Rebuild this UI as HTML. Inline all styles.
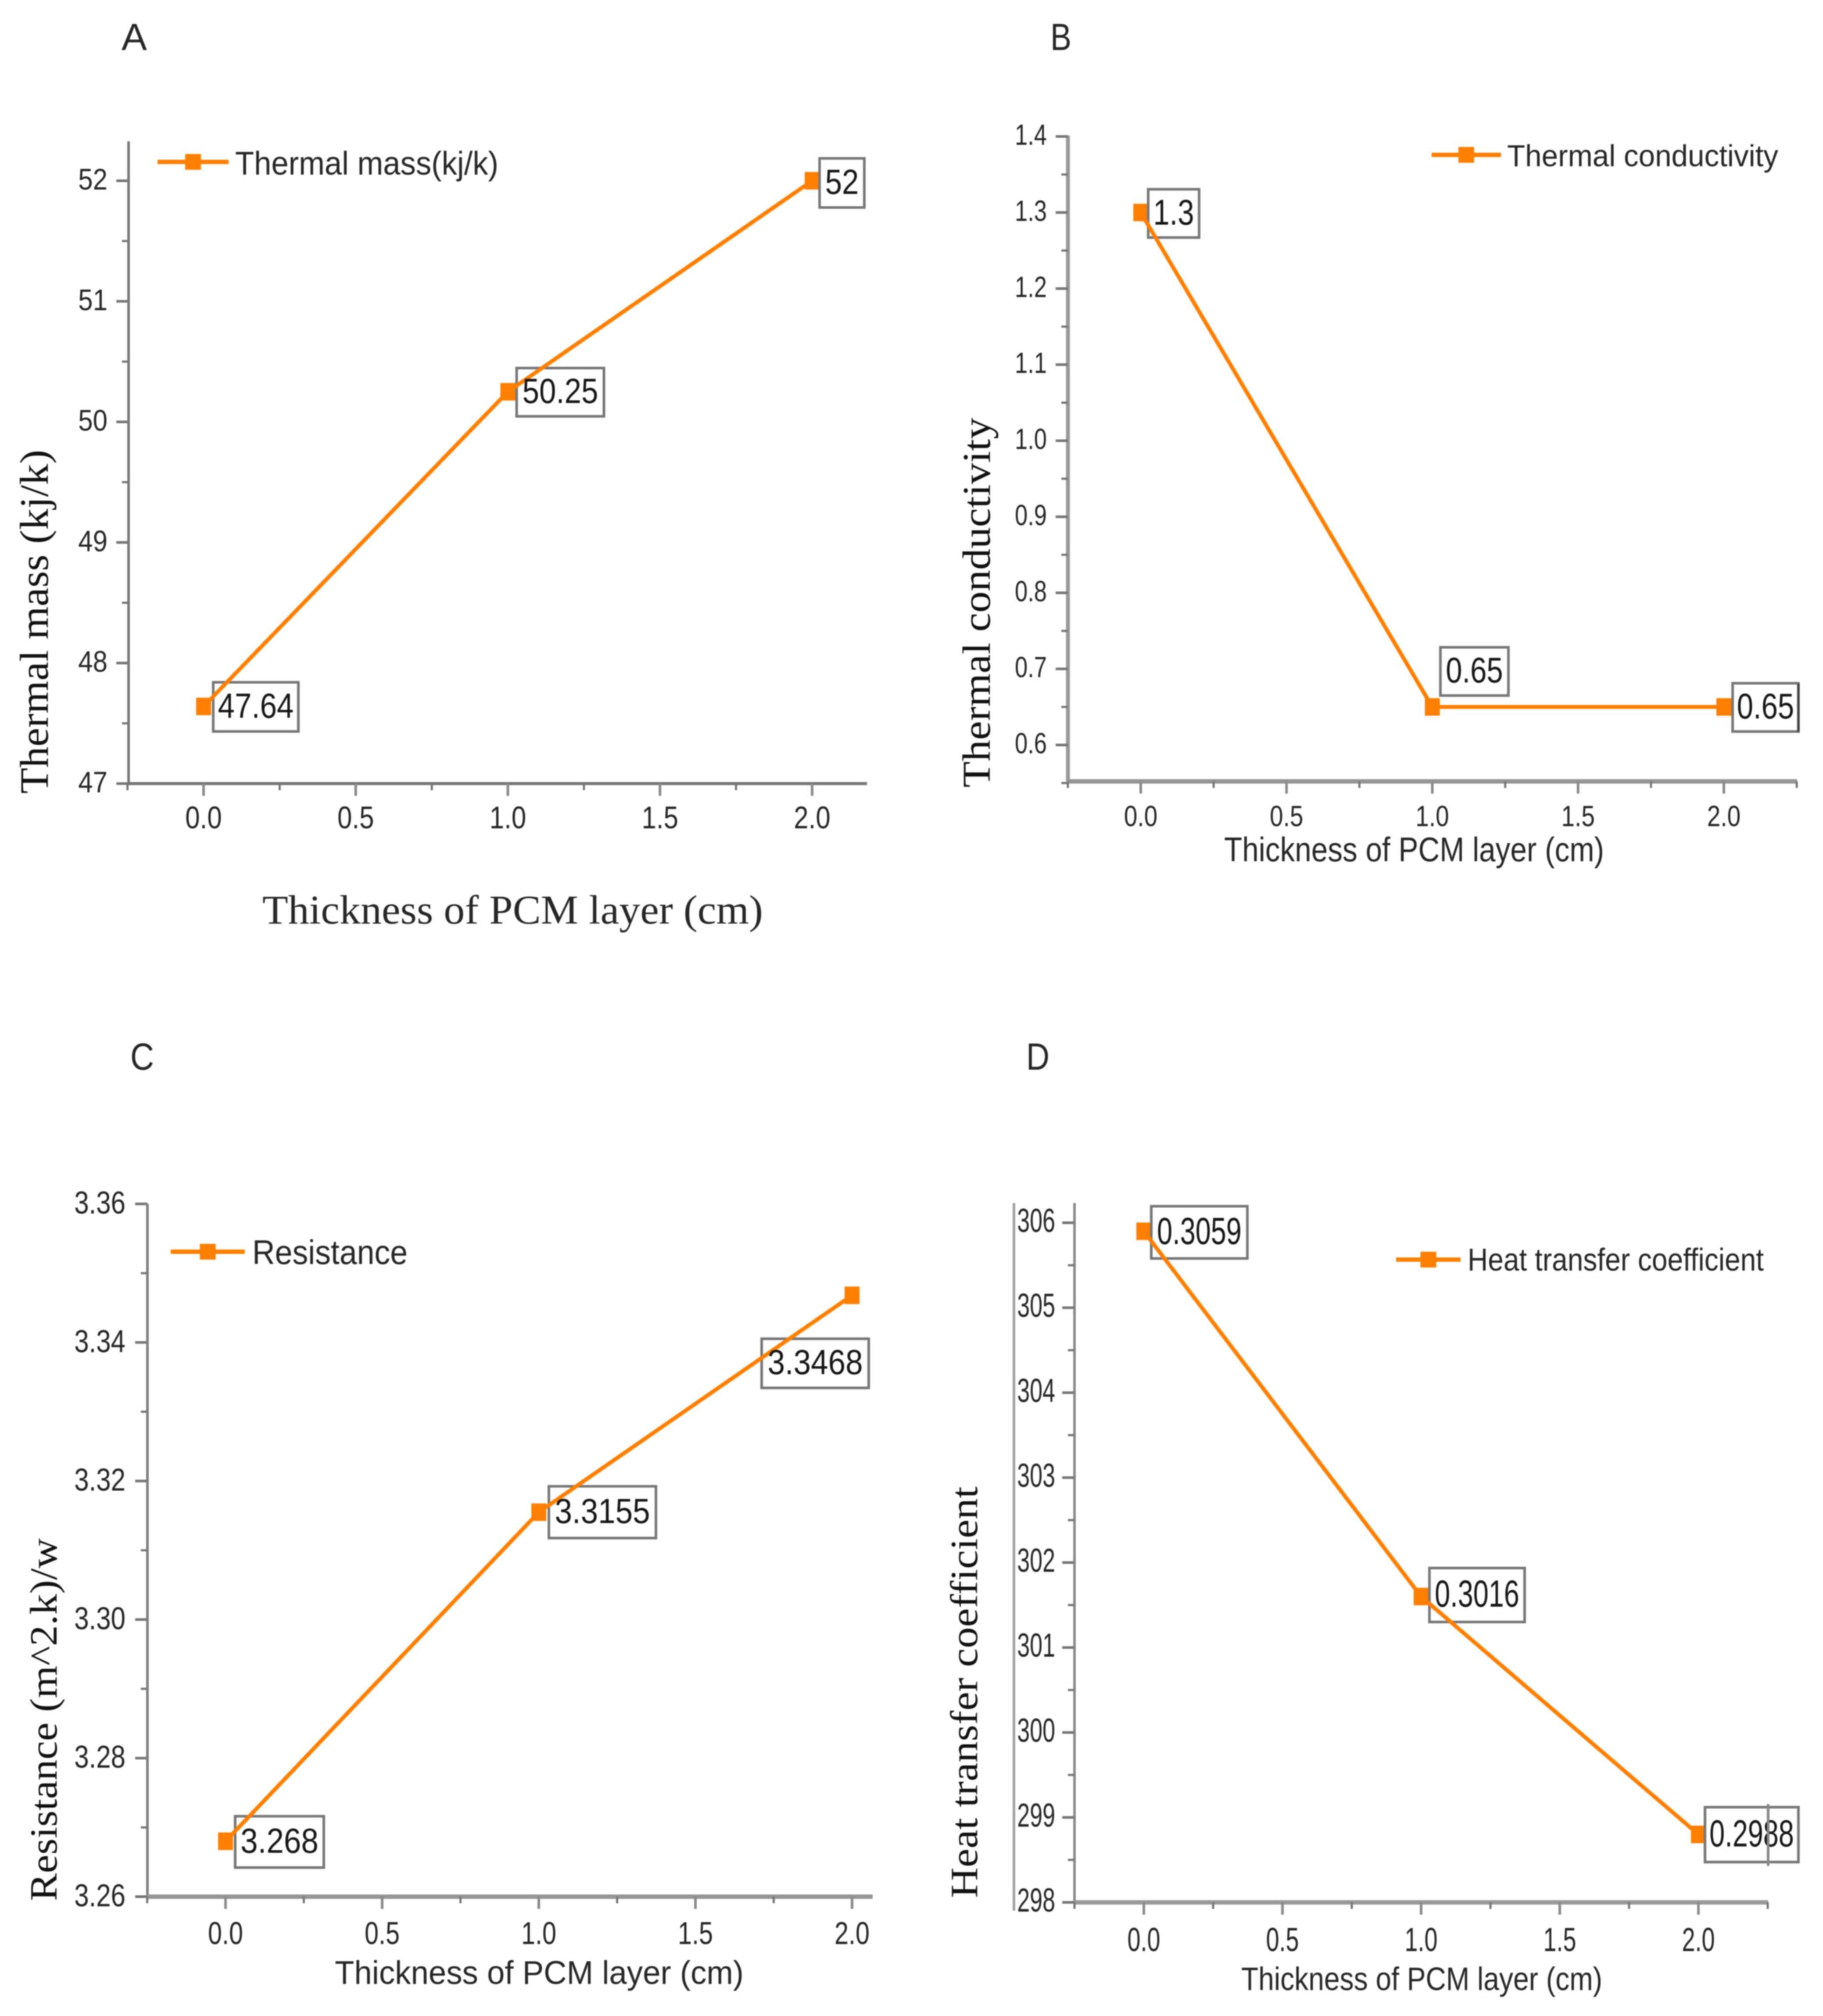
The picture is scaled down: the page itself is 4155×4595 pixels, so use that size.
<!DOCTYPE html>
<html lang="en">
<head>
<meta charset="utf-8">
<title>PCM layer thickness charts</title>
<style>
html,body{margin:0;padding:0;background:#fff;width:4155px;height:4595px;overflow:hidden}
svg{display:block;filter:blur(1.3px)}
</style>
</head>
<body>
<svg id="figure" xmlns="http://www.w3.org/2000/svg" width="4155" height="4595" viewBox="0 0 4155 4595">
<rect width="4155" height="4595" fill="#fff"/>
</svg>
<script>
const thicknessValues = [0, 1, 2];
const xTickValues = [0, 0.5, 1, 1.5, 2];
const xTickLabels = ['0.0', '0.5', '1.0', '1.5', '2.0'];

const massValues = [47.64, 50.25, 52];
const massLabels = ['47.64', '50.25', '52'];
const massTickValues = [47, 48, 49, 50, 51, 52];
const massTickLabels = ['47', '48', '49', '50', '51', '52'];

const conductivityValues = [1.3, 0.65, 0.65];
const conductivityLabels = ['1.3', '0.65', '0.65'];
const conductivityTickValues = [0.6, 0.7, 0.8, 0.9, 1.0, 1.1, 1.2, 1.3, 1.4];
const conductivityTickLabels = ['0.6', '0.7', '0.8', '0.9', '1.0', '1.1', '1.2', '1.3', '1.4'];

const resistanceValues = [3.268, 3.3155, 3.3468];
const resistanceLabels = ['3.268', '3.3155', '3.3468'];
const resistanceTickValues = [3.26, 3.28, 3.30, 3.32, 3.34, 3.36];
const resistanceTickLabels = ['3.26', '3.28', '3.30', '3.32', '3.34', '3.36'];

const heatValues = [305.9, 301.6, 298.8];
const heatLabels = ['0.3059', '0.3016', '0.2988'];
const heatTickValues = [298, 299, 300, 301, 302, 303, 304, 305, 306];
const heatTickLabels = ['298', '299', '300', '301', '302', '303', '304', '305', '306'];

const SANS = '"Liberation Sans", sans-serif';
const SERIF = '"Liberation Serif", serif';
const ORANGE = '#ff7f00';
const AXIS = '#767676';
const INK = '#262626';
const svg = document.getElementById('figure');

function add(parent, tag, attrs, text) {
  const el = document.createElementNS('http://www.w3.org/2000/svg', tag);
  for (const k in attrs) el.setAttribute(k, attrs[k]);
  if (text !== undefined) el.textContent = text;
  parent.appendChild(el);
  return el;
}
function emWidth(s) {
  let w = 0;
  for (const c of s) w += c === '.' ? 0.278 : 0.556;
  return w;
}
function fittedText(parent, s, x, y, family, size, len, anchor, fill, rotate) {
  const attrs = {x: x, y: y, 'font-family': family, 'font-size': size, fill: fill,
    'text-anchor': anchor, textLength: len, lengthAdjust: 'spacingAndGlyphs'};
  if (rotate) attrs.transform = 'rotate(-90 ' + x + ' ' + y + ')';
  return add(parent, 'text', attrs, s);
}

function drawPanel(cfg) {
  const g = add(svg, 'g', {});
  
  

  const xScale = v => cfg.x0 + v * (cfg.x2 - cfg.x0) / 2;
  const yScale = v => cfg.yLowPx + (v - cfg.tickValues[0]) * (cfg.yHighPx - cfg.yLowPx) /
    (cfg.tickValues[cfg.tickValues.length - 1] - cfg.tickValues[0]);

  const letter = fittedText(g, cfg.letter[0], cfg.letter[1], cfg.letter[2], SANS, 86, cfg.letter[3], 'start', INK);
  
  

  if (cfg.extraLine) {
    const extra = add(g, 'line', {x1: cfg.extraLine[0], x2: cfg.extraLine[0], y1: cfg.extraLine[1], y2: cfg.extraLine[2], stroke: '#a0a0a0', 'stroke-width': 6});
    
    
  }

  const yAxis = add(g, 'line', {x1: cfg.axisLeft, x2: cfg.axisLeft, y1: cfg.axisTop, y2: cfg.axisBottom, stroke: cfg.yAxisColor, 'stroke-width': cfg.yAxisWidth});
  
  
  const xAxis = add(g, 'line', {x1: cfg.axisLeft - 2, x2: cfg.axisRight, y1: cfg.axisBottom, y2: cfg.axisBottom, stroke: cfg.xAxisColor, 'stroke-width': cfg.xAxisWidth});
  
  

  cfg.tickValues.forEach((v, i) => {
    const y = yScale(v);
    const t = add(g, 'line', {x1: cfg.axisLeft - 28, x2: cfg.axisLeft, y1: y, y2: y, stroke: AXIS, 'stroke-width': 6});
    
    
    const s = cfg.tickLabels[i];
    const lab = fittedText(g, s, cfg.yLabelRight, y + cfg.yLabelDy, SANS, cfg.yTickFont, emWidth(s) * cfg.yTickWidth, 'end', INK);
    
    
    if (i < cfg.tickValues.length - 1) {
      const my = yScale((v + cfg.tickValues[i + 1]) / 2);
      const m = add(g, 'line', {x1: cfg.axisLeft - 15, x2: cfg.axisLeft, y1: my, y2: my, stroke: AXIS, 'stroke-width': 5});
      
      
    }
  });
  if (cfg.hasLowMinor) {
    const my = yScale(cfg.tickValues[0] - (cfg.tickValues[1] - cfg.tickValues[0]) / 2);
    const m = add(g, 'line', {x1: cfg.axisLeft - 15, x2: cfg.axisLeft, y1: my, y2: my, stroke: AXIS, 'stroke-width': 5});
    
    
  }

  const firstMinorX = xScale(-0.25);
  const firstMinor = add(g, 'line', {x1: firstMinorX, x2: firstMinorX, y1: cfg.axisBottom, y2: cfg.axisBottom + 15, stroke: AXIS, 'stroke-width': 5});
  
  

  xTickValues.forEach((v, i) => {
    const x = xScale(v);
    const t = add(g, 'line', {x1: x, x2: x, y1: cfg.axisBottom, y2: cfg.axisBottom + 28, stroke: '#8a8a8a', 'stroke-width': 6});
    
    
    const s = xTickLabels[i];
    const lab = fittedText(g, s, x, cfg.xLabelY, SANS, cfg.xTickFont, emWidth(s) * cfg.xTickWidth, 'middle', INK);
    
    
    const mx = xScale(v + 0.25);
    if (mx <= cfg.axisRight + 3) {
      const m = add(g, 'line', {x1: mx, x2: mx, y1: cfg.axisBottom, y2: cfg.axisBottom + 15, stroke: AXIS, 'stroke-width': 5});
      
      
    }
  });

  const xt = cfg.xTitle;
  const xTitle = fittedText(g, xt[0], xt[1], xt[2], xt[3], xt[4], xt[5], 'start', INK);
  
  
  const yt = cfg.yTitle;
  const yTitle = fittedText(g, yt[0], yt[1], yt[2], SERIF, yt[4], yt[3], 'start', '#111', true);
  
  

  cfg.values.forEach((v, i) => {
    const m = add(g, 'rect', {x: xScale(thicknessValues[i]) - 17, y: yScale(v) - 20, width: 34, height: 40, fill: ORANGE});
    
    
  });

  cfg.values.forEach((v, i) => {
    const b = cfg.boxes[i];
    const px = xScale(thicknessValues[i]), py = yScale(v);
    const box = add(g, 'rect', {x: px + b[0], y: py + b[1], width: b[2], height: b[3], fill: '#fff', stroke: '#777', 'stroke-width': 6});
    
    
  });

  const pts = cfg.values.map((v, i) => xScale(thicknessValues[i]).toFixed(1) + ',' + yScale(v).toFixed(1)).join(' ');
  const line = add(g, 'polyline', {points: pts, fill: 'none', stroke: ORANGE, 'stroke-width': 9, 'stroke-linejoin': 'round'});
  
  

  cfg.values.forEach((v, i) => {
    const b = cfg.boxes[i];
    const px = xScale(thicknessValues[i]), py = yScale(v);
    const s = cfg.labels[i];
    const lab = fittedText(g, s, px + b[0] + b[2] / 2, py + b[1] + b[3] / 2 + cfg.labelFont * 0.31, SANS, cfg.labelFont, emWidth(s) * cfg.labelWidth, 'middle', '#161616');
    
    
  });

  const lg = cfg.legend;
  const legendGroup = add(g, 'g', {});
  
  
  const ll = add(legendGroup, 'line', {x1: lg.x1, x2: lg.x2, y1: lg.y, y2: lg.y, stroke: ORANGE, 'stroke-width': 10});
  
  
  const lm = add(legendGroup, 'rect', {x: (lg.x1 + lg.x2) / 2 - 18, y: lg.y - 18, width: 36, height: 36, fill: ORANGE});
  
  
  const lt = fittedText(legendGroup, lg.text, lg.tx, lg.ty, SANS, lg.font, lg.len, 'start', INK);
  
  

  if (cfg.stub) {
    const st = add(g, 'line', {x1: cfg.stub[0], x2: cfg.stub[0], y1: cfg.stub[1], y2: cfg.stub[2], stroke: cfg.stub[3], 'stroke-width': 6});
    
    
  }
}

drawPanel({
  id: 'a', letter: ['A', 277, 114, 58], values: massValues, labels: massLabels,
  tickValues: massTickValues, tickLabels: massTickLabels,
  x0: 464, x2: 1851, yLowPx: 1786, yHighPx: 412,
  axisLeft: 293, axisRight: 1976, axisTop: 322, axisBottom: 1786,
  yAxisWidth: 6, yAxisColor: '#7a7a7a', xAxisWidth: 7, xAxisColor: '#757575',
  yLabelRight: 245, yLabelDy: 20, yTickFont: 68, yTickWidth: 60,
  xLabelY: 1888, xTickFont: 71, xTickWidth: 60,
  labelFont: 80, labelWidth: 69,
  xTitle: ['Thickness of PCM layer (cm)', 598, 2105, SERIF, 93, 1141],
  yTitle: ['Thermal mass (kj/k)', 109, 1809, 784, 92],
  boxes: [[22, -55, 194, 112], [20, -54, 199, 110], [17, -51, 102, 112]],
  legend: {x1: 359, x2: 521, y: 369, text: 'Thermal mass(kj/k)', tx: 536, ty: 398, font: 75, len: 600}
});

drawPanel({
  id: 'b', letter: ['B', 2394, 114, 48], values: conductivityValues, labels: conductivityLabels,
  tickValues: conductivityTickValues, tickLabels: conductivityTickLabels,
  x0: 2600, x2: 3929, yLowPx: 1698, yHighPx: 311, hasLowMinor: true,
  axisLeft: 2434, axisRight: 4096, axisTop: 309, axisBottom: 1781,
  yAxisWidth: 9, yAxisColor: '#9a9a9a', xAxisWidth: 10, xAxisColor: '#959595',
  yLabelRight: 2386, yLabelDy: 19, yTickFont: 67, yTickWidth: 52.5,
  xLabelY: 1883, xTickFont: 67, xTickWidth: 55,
  labelFont: 82, labelWidth: 67,
  xTitle: ['Thickness of PCM layer (cm)', 2790, 1963, SANS, 78, 866],
  yTitle: ['Thermal conductivity', 2256, 1795, 843, 90],
  boxes: [[17, -53, 116, 110], [18.5, -136, 155, 110], [20, -54, 150, 110]],
  legend: {x1: 3263, x2: 3421, y: 353, text: 'Thermal conductivity', tx: 3435, ty: 379, font: 70, len: 618},
  stub: [4099, 1558, 1668, '#444']
});

drawPanel({
  id: 'c', letter: ['C', 297, 2438, 54], values: resistanceValues, labels: resistanceLabels,
  tickValues: resistanceTickValues, tickLabels: resistanceTickLabels,
  x0: 514, x2: 1942, yLowPx: 4323, yHighPx: 2744,
  axisLeft: 336, axisRight: 1989, axisTop: 2744, axisBottom: 4323,
  yAxisWidth: 6, yAxisColor: '#7f7f7f', xAxisWidth: 10, xAxisColor: '#959595',
  yLabelRight: 286, yLabelDy: 22, yTickFont: 72, yTickWidth: 60,
  xLabelY: 4431, xTickFont: 72, xTickWidth: 57.5,
  labelFont: 80, labelWidth: 71,
  xTitle: ['Thickness of PCM layer (cm)', 763, 4522, SANS, 75, 932],
  yTitle: ['Resistance (m^2.k)/w', 129, 4333, 827, 88],
  boxes: [[22, -57, 202, 117], [23, -59, 244, 118], [-206, 99, 244, 112]],
  legend: {x1: 389, x2: 558, y: 2853, text: 'Resistance', tx: 575, ty: 2881, font: 78, len: 354}
});

drawPanel({
  id: 'd', letter: ['D', 2339, 2438, 53], values: heatValues, labels: heatLabels,
  tickValues: heatTickValues, tickLabels: heatTickLabels,
  x0: 2607, x2: 3871, yLowPx: 4336, yHighPx: 2787,
  axisLeft: 2449, axisRight: 4030, axisTop: 2742, axisBottom: 4336,
  yAxisWidth: 6, yAxisColor: '#8a8a8a', xAxisWidth: 10, xAxisColor: '#999',
  yLabelRight: 2405, yLabelDy: 21, yTickFont: 76, yTickWidth: 52,
  xLabelY: 4447, xTickFont: 76, xTickWidth: 54,
  labelFont: 86, labelWidth: 63,
  xTitle: ['Thickness of PCM layer (cm)', 2829, 4536, SANS, 74, 823],
  yTitle: ['Heat transfer coefficient', 2227, 4326, 938, 88],
  boxes: [[17, -57, 219, 119], [19, -65, 217, 123], [15, -62, 213, 125]],
  legend: {x1: 3182, x2: 3329, y: 2871, text: 'Heat transfer coefficient', tx: 3345, ty: 2896, font: 72, len: 675},
  extraLine: [2311, 2742, 4355],
  stub: [4030, 4112, 4253, '#888']
});
</script>
</body>
</html>
